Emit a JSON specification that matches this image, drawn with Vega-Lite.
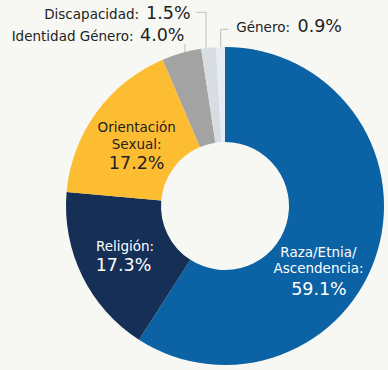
{
  "$schema": "https://vega.github.io/schema/vega-lite/v6.json",
  "width": 388,
  "height": 370,
  "autosize": {"type": "none"},
  "padding": 0,
  "background": "#f7f8f3",
  "config": {
    "view": {"stroke": null},
    "text": {"font": "DejaVu Sans", "lineBreak": "\n", "lineHeight": 16.5}
  },
  "layer": [
    {
      "data": {
        "values": [
          {"x": -28.5, "y": -193.7, "x2": -19, "y2": -193.7},
          {"x": -19, "y": -193.7, "x2": -19, "y2": -156},
          {"x": -4.3, "y": -176.7, "x2": 3, "y2": -176.7},
          {"x": -4.3, "y": -176.7, "x2": -4.3, "y2": -156},
          {"x": -40, "y": -162, "x2": -40, "y2": -152}
        ]
      },
      "mark": {"type": "rule", "color": "#bcbcbc", "strokeWidth": 1},
      "encoding": {
        "x": {"field": "x", "type": "quantitative", "scale": {"domain": [-225, 163], "nice": false, "zero": false}, "axis": null},
        "y": {"field": "y", "type": "quantitative", "scale": {"domain": [-206, 164], "nice": false, "zero": false, "reverse": true}, "axis": null},
        "x2": {"field": "x2"},
        "y2": {"field": "y2"}
      }
    },
    {
      "data": {
        "values": [
          {"cat": "Raza", "etiqueta": "Raza/Etnia/\nAscendencia:", "value": 0.591},
          {"cat": "Religión", "etiqueta": "Religión:", "value": 0.173},
          {"cat": "Orientación", "etiqueta": "Orientación\nSexual:", "value": 0.172},
          {"cat": "Identidad", "etiqueta": "Identidad Género:", "value": 0.040},
          {"cat": "Discapacidad", "etiqueta": "Discapacidad:", "value": 0.015},
          {"cat": "Género", "etiqueta": "Género:", "value": 0.009}
        ]
      },
      "encoding": {
        "x": {"datum": 0, "type": "quantitative", "scale": {"domain": [-225, 163], "nice": false, "zero": false}, "axis": null},
        "y": {"datum": 0, "type": "quantitative", "scale": {"domain": [-206, 164], "nice": false, "zero": false, "reverse": true}, "axis": null},
        "theta": {"field": "value", "type": "quantitative", "stack": true},
        "order": {"field": "value", "sort": "descending"}
      },
      "layer": [
        {
          "mark": {"type": "arc", "innerRadius": 64, "outerRadius": 159},
          "encoding": {
            "color": {
              "field": "cat",
              "type": "nominal",
              "scale": {
                "domain": ["Raza", "Religión", "Orientación", "Identidad", "Discapacidad", "Género"],
                "range": ["#0b62a4", "#162f56", "#fdbd33", "#a3a3a3", "#d8dde1", "#e7ecf4"]
              },
              "legend": null
            }
          }
        },
        {
          "mark": {"type": "text", "radius": 112, "dx": -14, "dy": 15.2, "fontSize": 13.5, "align": "center", "baseline": "middle", "color": "#ffffff"},
          "encoding": {"text": {"field": "etiqueta", "condition": {"test": "datum.cat !== 'Raza'", "value": ""}}}
        },
        {
          "mark": {"type": "text", "radius": 112, "dx": -13.5, "dy": 52.4, "fontSize": 17.5, "align": "center", "baseline": "middle", "color": "#ffffff"},
          "encoding": {"text": {"field": "value", "type": "quantitative", "format": ".1%", "condition": {"test": "datum.cat !== 'Raza'", "value": ""}}}
        },
        {
          "mark": {"type": "text", "radius": 113, "dx": 1.5, "dy": -8.7, "fontSize": 13.5, "align": "center", "baseline": "middle", "color": "#ffffff"},
          "encoding": {"text": {"field": "etiqueta", "condition": {"test": "datum.cat !== 'Religión'", "value": ""}}}
        },
        {
          "mark": {"type": "text", "radius": 113, "dx": 0, "dy": 10, "fontSize": 17.5, "align": "center", "baseline": "middle", "color": "#ffffff"},
          "encoding": {"text": {"field": "value", "type": "quantitative", "format": ".1%", "condition": {"test": "datum.cat !== 'Religión'", "value": ""}}}
        },
        {
          "mark": {"type": "text", "radius": 103, "dx": -5, "dy": -17.2, "fontSize": 13.5, "align": "center", "baseline": "middle", "color": "#222222"},
          "encoding": {"text": {"field": "etiqueta", "condition": {"test": "datum.cat !== 'Orientación'", "value": ""}}}
        },
        {
          "mark": {"type": "text", "radius": 103, "dx": -5, "dy": 18.5, "fontSize": 17.5, "align": "center", "baseline": "middle", "color": "#222222"},
          "encoding": {"text": {"field": "value", "type": "quantitative", "format": ".1%", "condition": {"test": "datum.cat !== 'Orientación'", "value": ""}}}
        },
        {
          "mark": {"type": "text", "radius": 159, "dx": -48.1, "dy": -12, "fontSize": 13.5, "align": "right", "baseline": "alphabetic", "color": "#222222"},
          "encoding": {"text": {"field": "etiqueta", "condition": {"test": "datum.cat !== 'Identidad'", "value": ""}}}
        },
        {
          "mark": {"type": "text", "radius": 159, "dx": -41.6, "dy": -12, "fontSize": 17.5, "align": "left", "baseline": "alphabetic", "color": "#222222"},
          "encoding": {"text": {"field": "value", "type": "quantitative", "format": ".1%", "condition": {"test": "datum.cat !== 'Identidad'", "value": ""}}}
        },
        {
          "mark": {"type": "text", "radius": 159, "dx": -69.5, "dy": -28.9, "fontSize": 13.5, "align": "right", "baseline": "alphabetic", "color": "#222222"},
          "encoding": {"text": {"field": "etiqueta", "condition": {"test": "datum.cat !== 'Discapacidad'", "value": ""}}}
        },
        {
          "mark": {"type": "text", "radius": 159, "dx": -62.5, "dy": -28.9, "fontSize": 17.5, "align": "left", "baseline": "alphabetic", "color": "#222222"},
          "encoding": {"text": {"field": "value", "type": "quantitative", "format": ".1%", "condition": {"test": "datum.cat !== 'Discapacidad'", "value": ""}}}
        },
        {
          "mark": {"type": "text", "radius": 159, "dx": 69.5, "dy": -14.8, "fontSize": 13.5, "align": "right", "baseline": "alphabetic", "color": "#222222"},
          "encoding": {"text": {"field": "etiqueta", "condition": {"test": "datum.cat !== 'Género'", "value": ""}}}
        },
        {
          "mark": {"type": "text", "radius": 159, "dx": 77, "dy": -14.8, "fontSize": 17.5, "align": "left", "baseline": "alphabetic", "color": "#222222"},
          "encoding": {"text": {"field": "value", "type": "quantitative", "format": ".1%", "condition": {"test": "datum.cat !== 'Género'", "value": ""}}}
        }
      ]
    }
  ]
}
